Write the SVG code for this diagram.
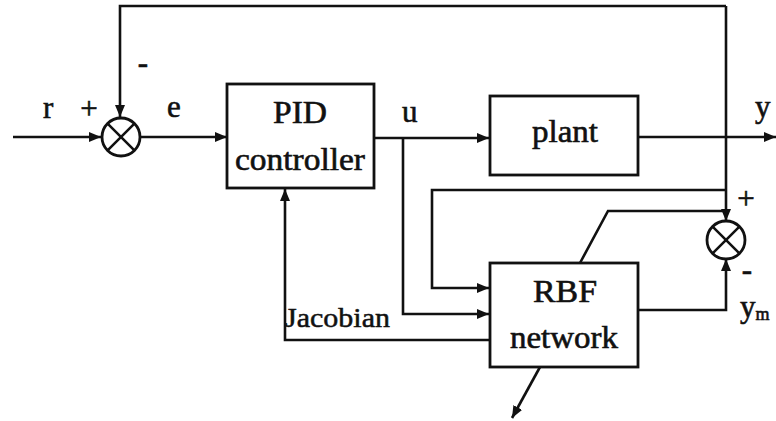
<svg xmlns="http://www.w3.org/2000/svg" width="776" height="421" viewBox="0 0 776 421">
<style>
.ln{fill:none;stroke:#111;stroke-width:2.6;stroke-linejoin:miter}
.bx{fill:#fff;stroke:#111;stroke-width:2.8}
.sum{fill:#fff;stroke:#111;stroke-width:2.8}
.t{font-family:"Liberation Serif","DejaVu Serif",serif;font-size:31px;fill:#111;stroke:#111;stroke-width:0.6}
.s{font-family:"Liberation Serif","DejaVu Serif",serif;font-size:27px;fill:#111;stroke:#111;stroke-width:0.5}
</style>
<defs>
<marker id="ah" viewBox="0 0 12 10" refX="12" refY="5" markerWidth="12" markerHeight="10" markerUnits="userSpaceOnUse" orient="auto">
<path d="M0,0 L12,5 L0,10 z" fill="#111"/>
</marker>
</defs>
<rect width="776" height="421" fill="#fff"/>
<g id="connectors">
<path class="ln" d="M13,137 L101,137" marker-end="url(#ah)"/>
<path class="ln" d="M726,6 L120,6 L120,117" marker-end="url(#ah)"/>
<path class="ln" d="M140,137 L227,137" marker-end="url(#ah)"/>
<path class="ln" d="M374,138 L489,138" marker-end="url(#ah)"/>
<path class="ln" d="M403,138 L403,314 L489,314" marker-end="url(#ah)"/>
<path class="ln" d="M638,137 L776,137" marker-end="url(#ah)"/>
<path class="ln" d="M726,6 L726,221" marker-end="url(#ah)"/>
<path class="ln" d="M726,190 L432,190 L432,288 L489,288" marker-end="url(#ah)"/>
<path class="ln" d="M580,263 L608,211 L726,211"/>
<path class="ln" d="M638,310 L726,310 L726,259" marker-end="url(#ah)"/>
<path class="ln" d="M490,340 L285,340 L285,189" marker-end="url(#ah)"/>
<path class="ln" d="M540,367 L512,418" marker-end="url(#ah)"/>
</g>
<g id="sum1">
<circle class="sum" cx="121" cy="137" r="19"/>
<path class="ln" d="M107.6,123.6 L134.4,150.4 M134.4,123.6 L107.6,150.4"/>
</g>
<g id="sum2">
<circle class="sum" cx="726" cy="240" r="19"/>
<path class="ln" d="M712.6,226.6 L739.4,253.4 M739.4,226.6 L712.6,253.4"/>
</g>
<g id="pid">
<rect class="bx" x="227" y="84" width="147" height="104"/>
<text class="t" x="300" y="123" text-anchor="middle" textLength="54" lengthAdjust="spacingAndGlyphs">PID</text>
<text class="t" x="300" y="170" text-anchor="middle" textLength="130" lengthAdjust="spacingAndGlyphs">controller</text>
</g>
<g id="plant">
<rect class="bx" x="490" y="96" width="148" height="79"/>
<text class="t" x="565" y="142" text-anchor="middle" textLength="66" lengthAdjust="spacingAndGlyphs">plant</text>
</g>
<g id="rbf">
<rect class="bx" x="490" y="263" width="148" height="104"/>
<text class="t" x="565" y="302" text-anchor="middle" textLength="64" lengthAdjust="spacingAndGlyphs">RBF</text>
<text class="t" x="564" y="348" text-anchor="middle" textLength="108" lengthAdjust="spacingAndGlyphs">network</text>
</g>
<g id="labels">
<text class="t" x="43" y="118">r</text>
<text class="t" x="89" y="119" text-anchor="middle">+</text>
<text class="t" x="143" y="73" text-anchor="middle">-</text>
<text class="t" x="167" y="117">e</text>
<text class="t" x="402" y="122">u</text>
<text class="t" x="755" y="117">y</text>
<text class="t" x="746" y="209" text-anchor="middle">+</text>
<text class="t" x="747" y="280" text-anchor="middle" font-size="22">-</text>
<text class="t" x="740" y="317" font-size="28">y<tspan font-size="18" dy="3">m</tspan></text>
<text class="s" x="285" y="327" textLength="105" lengthAdjust="spacingAndGlyphs">Jacobian</text>
</g>
</svg>
